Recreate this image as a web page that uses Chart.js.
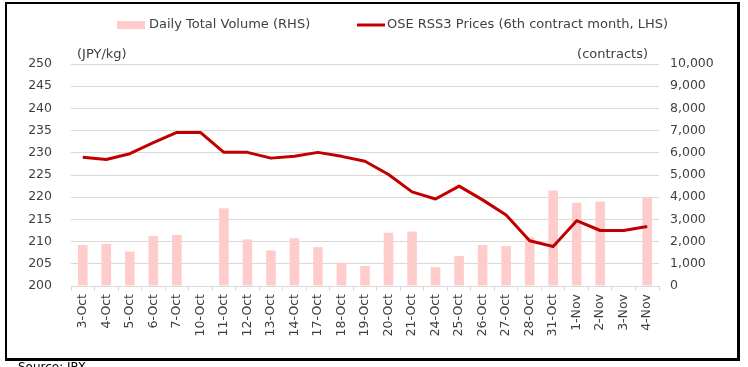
<!DOCTYPE html>
<html>
<head>
<meta charset="utf-8">
<script src="https://cdn.jsdelivr.net/npm/chart.js@4/dist/chart.umd.min.js"></script>
<style>
  body { margin: 0; background: #fff; }
  #wrap { position: relative; width: 748px; height: 367px; overflow: hidden; }
  #frame {
    position: absolute; left: 5px; top: 2px; width: 730px; height: 354px;
    border-left: 2px solid #000; border-top: 2px solid #000;
    border-right: 3px solid #000; border-bottom: 3px solid #000;
    pointer-events: none;
  }
  canvas { position: absolute; left: 0; top: 0; }
</style>
</head>
<body>
<div id="wrap">
  <canvas id="chart" width="748" height="367"></canvas>
  <div id="frame"></div>
</div>
<script>
var days = ["3-Oct", "4-Oct", "5-Oct", "6-Oct", "7-Oct", "10-Oct", "11-Oct", "12-Oct", "13-Oct",
    "14-Oct", "17-Oct", "18-Oct", "19-Oct", "20-Oct", "21-Oct", "24-Oct", "25-Oct", "26-Oct",
    "27-Oct", "28-Oct", "31-Oct", "1-Nov", "2-Nov", "3-Nov", "4-Nov"];

// daily total volume, contracts (RHS)
var volume = [1850, 1900, 1550, 2250, 2300, null, 3500, 2100, 1600, 2150, 1750, 1050, 900,
    2400, 2450, 850, 1350, 1850, 1800, 2200, 4300, 3750, 3800, null, 4000];

// OSE RSS3 6th contract month, JPY/kg (LHS)
var prices = [229.0, 228.5, 229.8, 232.3, 234.6, 234.6, 230.1, 230.1, 228.8, 229.2, 230.1,
    229.2, 228.1, 225.1, 221.2, 219.6, 222.5, 219.4, 216.0, 210.2, 208.9, 214.7, 212.5,
    212.5, 213.4];

var barColor = "#FFCCCC";
var lineColor = "#C00000";
var gridColor = "#D9D9D9";
var textColor = "#404040";

Chart.defaults.font.family = "'DejaVu Sans', sans-serif";
Chart.defaults.font.size = 12.5;
Chart.defaults.color = textColor;

// legend, unit captions and source line
var extras = {
    id: "extras",
    afterDraw: function(chart) {
        var ctx = chart.ctx;
        ctx.save();
        ctx.font = "13px 'DejaVu Sans', sans-serif";
        ctx.fillStyle = textColor;
        ctx.textBaseline = "middle";

        ctx.fillStyle = barColor;
        ctx.fillRect(117, 21, 28, 8);
        ctx.fillStyle = textColor;
        ctx.fillText("Daily Total Volume (RHS)", 149, 25);

        ctx.strokeStyle = lineColor;
        ctx.lineWidth = 3;
        ctx.beginPath();
        ctx.moveTo(357, 25);
        ctx.lineTo(385, 25);
        ctx.stroke();
        ctx.fillText("OSE RSS3 Prices (6th contract month, LHS)", 387, 25);

        ctx.textAlign = "left";
        ctx.fillText("(JPY/kg)", 77, 55);
        ctx.textAlign = "right";
        ctx.fillText("(contracts)", 648, 55);

        ctx.textAlign = "left";
        ctx.textBaseline = "top";
        ctx.font = "12px 'DejaVu Sans', sans-serif";
        ctx.fillStyle = "#000";
        ctx.fillText("Source: JPX", 18, 362);
        ctx.restore();
    }
};

new Chart(document.getElementById("chart").getContext("2d"), {
    data: {
        labels: days,
        datasets: [
            {
                type: "line",
                label: "OSE RSS3 Prices (6th contract month, LHS)",
                data: prices,
                yAxisID: "y",
                borderColor: lineColor,
                borderWidth: 3,
                pointRadius: 0,
                borderJoinStyle: "round",
                tension: 0,
                order: 0
            },
            {
                type: "bar",
                label: "Daily Total Volume (RHS)",
                data: volume,
                yAxisID: "y1",
                backgroundColor: barColor,
                barPercentage: 0.41,
                categoryPercentage: 1,
                order: 1
            }
        ]
    },
    options: {
        responsive: false,
        animation: false,
        layout: {
            padding: { top: 64, left: 0, right: 0, bottom: 0 }
        },
        plugins: {
            legend: { display: false },
            tooltip: { enabled: false }
        },
        scales: {
            x: {
                offset: true,
                grid: {
                    offset: true,
                    drawOnChartArea: false,
                    color: gridColor,
                    tickLength: 5
                },
                border: { color: gridColor },
                ticks: {
                    minRotation: 90,
                    maxRotation: 90,
                    padding: 3,
                    autoSkip: false
                },
                afterFit: function(scale) {
                    scale.height = 81;
                }
            },
            y: {
                position: "left",
                min: 200,
                max: 250,
                ticks: { stepSize: 5, padding: 19 },
                grid: { color: gridColor, drawTicks: false },
                border: { display: false },
                afterFit: function(scale) {
                    scale.width = 71;
                }
            },
            y1: {
                position: "right",
                min: 0,
                max: 10000,
                ticks: {
                    stepSize: 1000,
                    padding: 11,
                    callback: function(v) {
                        return v.toLocaleString("en-US");
                    }
                },
                grid: { drawOnChartArea: false, drawTicks: false },
                border: { display: false },
                afterFit: function(scale) {
                    scale.width = 89;
                }
            }
        }
    },
    plugins: [extras]
});
</script>
</body>
</html>
